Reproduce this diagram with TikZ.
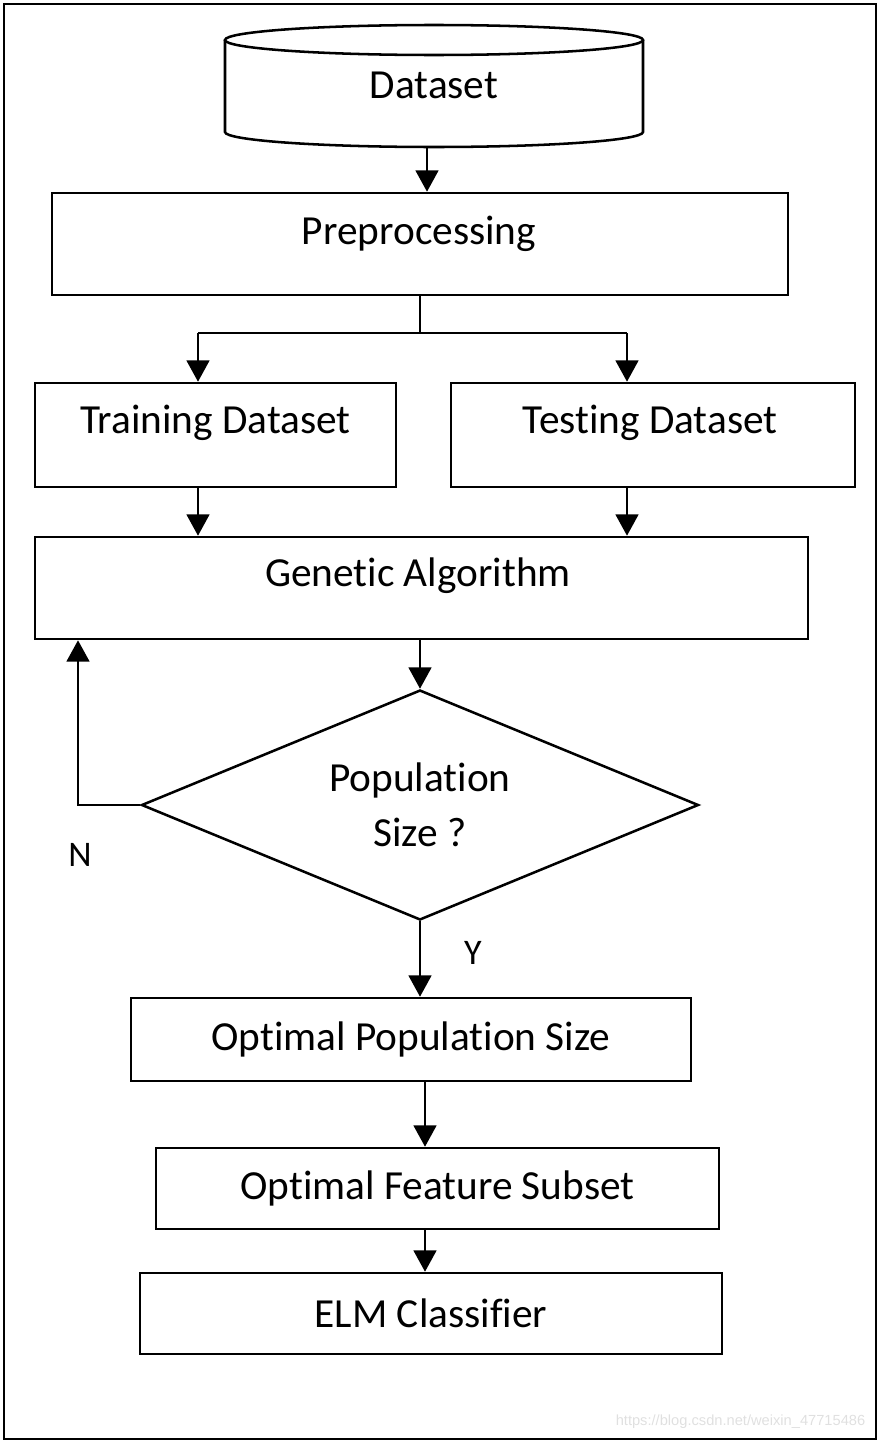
\documentclass[tikz,border=0pt]{standalone}
\usepackage{fontspec}
\setmainfont[Ligatures=NoCommon]{Carlito}
\newfontfamily\wmfont{Liberation Sans}
\usetikzlibrary{shapes.geometric,arrows.meta}
\begin{document}
\begin{tikzpicture}[x=0.75pt,y=0.75pt,
  every node/.style={font=\fontsize{31}{41}\selectfont},
  box/.style={draw,line width=1.9pt,inner sep=0pt},
  conn/.style={line width=1.9pt},
  arr/.style={line width=1.9pt,-{Triangle[length=16pt,width=17pt]}},
  lbl/.style={font=\fontsize{27}{32}\selectfont}]
\useasboundingbox (0,0) rectangle (880,-1442);
\draw[line width=2.2pt] (4,-4) rectangle (876,-1439);
% cylinder
\node[inner sep=0pt,minimum width=313.5pt,minimum height=93pt] (ds) at (434,-85) {Dataset};
\draw[line width=1.9pt] (434,-40) ellipse [x radius=156.75pt, y radius=11.25pt];
\draw[line width=1.9pt] (225,-40) -- (225,-132) arc[start angle=180, end angle=360, x radius=156.75pt, y radius=11.25pt] -- (643,-40);
% boxes
\node[box,minimum width=552pt,minimum height=76.5pt] (pre) at (420,-244) {};
\node at (419,-234) {Preprocessing};
\node[box,minimum width=270.75pt,minimum height=78pt] (train) at (215.5,-435) {};
\node at (215.5,-423) {Training Dataset};
\node[box,minimum width=303pt,minimum height=78pt] (test) at (653,-435) {};
\node at (650,-423) {Testing Dataset};
\node[box,minimum width=579.75pt,minimum height=76.5pt] (ga) at (421.5,-588) {};
\node at (418,-576) {Genetic Algorithm};
\node[draw,shape=diamond,line width=1.9pt,inner sep=0pt,aspect=2.42,minimum width=417.75pt,minimum height=172.5pt,align=center] (dia) at (420,-805) {Population\\Size ?};
\node[box,minimum width=420pt,minimum height=62.25pt] (ops) at (411,-1039.5) {Optimal Population Size};
\node[box,minimum width=422.25pt,minimum height=60.75pt] (ofs) at (437.5,-1188.5) {Optimal Feature Subset};
\node[box,minimum width=436.5pt,minimum height=60.75pt] (elm) at (431,-1313.5) {ELM Classifier};
% connectors
\draw[arr] (ds.south -| 427,0) -- (pre.north -| 427,0);
\coordinate (split) at (420,-333);
\coordinate (bl) at (198,-333);
\coordinate (br) at (627,-333);
\draw[conn] (pre.south) -- (split);
\draw[conn] (bl) -- (br);
\draw[arr] (bl) -- (bl |- train.north);
\draw[arr] (br) -- (br |- test.north);
\draw[arr] (bl |- train.south) -- (bl |- ga.north);
\draw[arr] (br |- test.south) -- (br |- ga.north);
\draw[arr] (ga.south -| dia.north) -- (dia.north);
\coordinate (nl) at (78,-805);
\draw[arr] (dia.west) -- (nl) -- (nl |- ga.south);
\node[lbl] (n) at (80,-855) {N};
\draw[arr] (dia.south) -- (dia.south |- ops.north);
\node[lbl] (y) at (473,-953) {Y};
\coordinate (c) at (425,0);
\draw[arr] (ops.south -| c) -- (ofs.north -| c);
\draw[arr] (ofs.south -| c) -- (elm.north -| c);
\node[font=\wmfont\fontsize{11}{13}\selectfont,text=black!12,anchor=east] (wm) at (870,-1422) {https://blog.csdn.net/weixin\_47715486};
\end{tikzpicture}
\end{document}
